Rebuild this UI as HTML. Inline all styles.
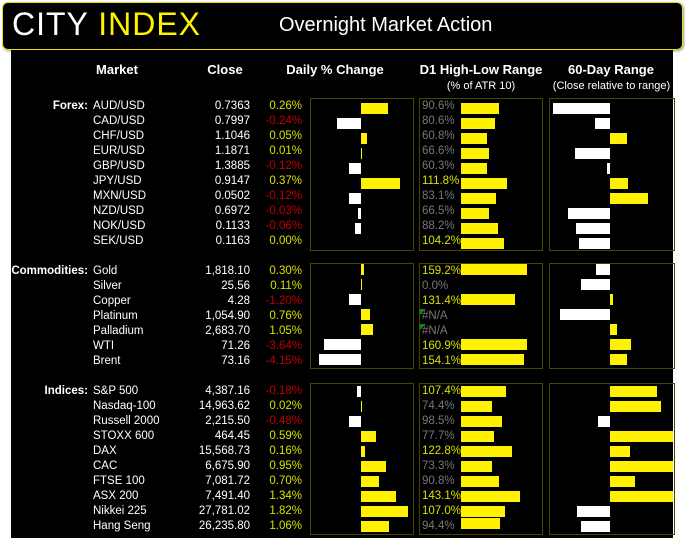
<!DOCTYPE html>
<html><head><meta charset="utf-8"><style>
*{margin:0;padding:0}
body{width:693px;height:538px;background:#fff;position:relative;overflow:hidden;font-family:"Liberation Sans",sans-serif}
.a{position:absolute}
#hdr{left:2px;top:2px;width:679px;height:46px;background:#000;border:1px solid #e8e000;border-radius:6px;box-shadow:1px 1px 2px #999}
#body{left:11px;top:50px;width:662px;height:488px;background:#000}
.t{position:absolute;height:16px;line-height:16px;font-size:11.5px;color:#fff;white-space:nowrap}
.r{text-align:right}
.n{left:93px}.lb{right:605px;font-weight:bold}.c{right:443px}.p{right:391px}
.g{color:#d8e000}.m{color:#c00000}
.box{position:absolute;border:1px solid #4a4500}
.y{position:absolute;background:#fff200;height:11px}
.w{position:absolute;background:#fff;height:11px}
.d{position:absolute;height:16px;line-height:16px;font-size:11.5px;left:422px;color:#777}
.d.h{color:#d8e000}
.hd{position:absolute;color:#fff;font-weight:bold;font-size:13px;text-align:center;white-space:nowrap}
</style></head><body>
<div id="hdr" class="a"></div>
<div class="a" style="left:12px;top:4px;font-size:32px;line-height:40px;color:#fff;letter-spacing:1px">CITY <span style="color:#fff200">INDEX</span></div>
<div class="a" style="left:279px;top:12px;font-size:20px;line-height:26px;color:#fff">Overnight Market Action</div>
<div id="body" class="a"></div>

<div class="hd" style="left:77px;width:80px;top:62px">Market</div>
<div class="hd" style="left:195px;width:60px;top:62px">Close</div>
<div class="hd" style="left:270px;width:130px;top:62px">Daily % Change</div>
<div class="hd" style="left:411px;width:140px;top:62px">D1 High-Low Range</div>
<div class="a" style="left:411px;width:140px;top:80px;text-align:center;color:#fff;font-size:11px">(% of ATR 10)</div>
<div class="hd" style="left:546px;width:130px;top:62px">60-Day Range</div>
<div class="a" style="left:544px;width:135px;top:80px;text-align:center;color:#fff;font-size:11px;white-space:nowrap">(Close relative to range)</div>

<div class="box" style="left:310px;top:98px;width:102px;height:151px"></div>
<div class="box" style="left:419px;top:98px;width:122px;height:151px"></div>
<div class="box" style="left:549px;top:98px;width:124px;height:151px"></div>
<div class="box" style="left:310px;top:263px;width:102px;height:104px"></div>
<div class="box" style="left:419px;top:263px;width:122px;height:104px"></div>
<div class="box" style="left:549px;top:263px;width:124px;height:104px"></div>
<div class="box" style="left:310px;top:383px;width:102px;height:150px"></div>
<div class="box" style="left:419px;top:383px;width:122px;height:150px"></div>
<div class="box" style="left:549px;top:383px;width:124px;height:150px"></div>

<!-- Forex -->
<div class="t r lb" style="top:98px">Forex:</div>
<div class="t n" style="top:98px">AUD/USD</div><div class="t r c" style="top:98px">0.7363</div><div class="t r p g" style="top:98px">0.26%</div>
<div class="t n" style="top:113px">CAD/USD</div><div class="t r c" style="top:113px">0.7997</div><div class="t r p m" style="top:113px">-0.24%</div>
<div class="t n" style="top:128px">CHF/USD</div><div class="t r c" style="top:128px">1.1046</div><div class="t r p g" style="top:128px">0.05%</div>
<div class="t n" style="top:143px">EUR/USD</div><div class="t r c" style="top:143px">1.1871</div><div class="t r p g" style="top:143px">0.01%</div>
<div class="t n" style="top:158px">GBP/USD</div><div class="t r c" style="top:158px">1.3885</div><div class="t r p m" style="top:158px">-0.12%</div>
<div class="t n" style="top:173px">JPY/USD</div><div class="t r c" style="top:173px">0.9147</div><div class="t r p g" style="top:173px">0.37%</div>
<div class="t n" style="top:188px">MXN/USD</div><div class="t r c" style="top:188px">0.0502</div><div class="t r p m" style="top:188px">-0.12%</div>
<div class="t n" style="top:203px">NZD/USD</div><div class="t r c" style="top:203px">0.6972</div><div class="t r p m" style="top:203px">-0.03%</div>
<div class="t n" style="top:218px">NOK/USD</div><div class="t r c" style="top:218px">0.1133</div><div class="t r p m" style="top:218px">-0.06%</div>
<div class="t n" style="top:233px">SEK/USD</div><div class="t r c" style="top:233px">0.1163</div><div class="t r p g" style="top:233px">0.00%</div>

<div class="y" style="left:361px;width:27px;top:103px"></div>
<div class="w" style="left:337px;width:24px;top:118px"></div>
<div class="y" style="left:361px;width:6px;top:133px"></div>
<div class="y" style="left:361px;width:1px;top:148px"></div>
<div class="w" style="left:349px;width:12px;top:163px"></div>
<div class="y" style="left:361px;width:39px;top:178px"></div>
<div class="w" style="left:349px;width:12px;top:193px"></div>
<div class="w" style="left:358px;width:3px;top:208px"></div>
<div class="w" style="left:355px;width:6px;top:223px"></div>

<div class="d" style="top:98px">90.6%</div><div class="y" style="left:461px;width:38px;top:103px"></div>
<div class="d" style="top:113px">80.6%</div><div class="y" style="left:461px;width:34px;top:118px"></div>
<div class="d" style="top:128px">60.8%</div><div class="y" style="left:461px;width:26px;top:133px"></div>
<div class="d" style="top:143px">66.6%</div><div class="y" style="left:461px;width:28px;top:148px"></div>
<div class="d" style="top:158px">60.3%</div><div class="y" style="left:461px;width:26px;top:163px"></div>
<div class="d h" style="top:173px">111.8%</div><div class="y" style="left:461px;width:46px;top:178px"></div>
<div class="d" style="top:188px">83.1%</div><div class="y" style="left:461px;width:35px;top:193px"></div>
<div class="d" style="top:203px">66.5%</div><div class="y" style="left:461px;width:28px;top:208px"></div>
<div class="d" style="top:218px">88.2%</div><div class="y" style="left:461px;width:37px;top:223px"></div>
<div class="d h" style="top:233px">104.2%</div><div class="y" style="left:461px;width:43px;top:238px"></div>

<div class="w" style="left:553px;width:57px;top:103px"></div>
<div class="w" style="left:595px;width:15px;top:118px"></div>
<div class="y" style="left:610px;width:17px;top:133px"></div>
<div class="w" style="left:575px;width:35px;top:148px"></div>
<div class="w" style="left:607px;width:3px;top:163px"></div>
<div class="y" style="left:610px;width:18px;top:178px"></div>
<div class="y" style="left:610px;width:38px;top:193px"></div>
<div class="w" style="left:568px;width:42px;top:208px"></div>
<div class="w" style="left:576px;width:34px;top:223px"></div>
<div class="w" style="left:579px;width:31px;top:238px"></div>

<!-- Commodities -->
<div class="t r lb" style="top:263px">Commodities:</div>
<div class="t n" style="top:263px">Gold</div><div class="t r c" style="top:263px">1,818.10</div><div class="t r p g" style="top:263px">0.30%</div>
<div class="t n" style="top:278px">Silver</div><div class="t r c" style="top:278px">25.56</div><div class="t r p g" style="top:278px">0.11%</div>
<div class="t n" style="top:293px">Copper</div><div class="t r c" style="top:293px">4.28</div><div class="t r p m" style="top:293px">-1.20%</div>
<div class="t n" style="top:308px">Platinum</div><div class="t r c" style="top:308px">1,054.90</div><div class="t r p g" style="top:308px">0.76%</div>
<div class="t n" style="top:323px">Palladium</div><div class="t r c" style="top:323px">2,683.70</div><div class="t r p g" style="top:323px">1.05%</div>
<div class="t n" style="top:338px">WTI</div><div class="t r c" style="top:338px">71.26</div><div class="t r p m" style="top:338px">-3.64%</div>
<div class="t n" style="top:353px">Brent</div><div class="t r c" style="top:353px">73.16</div><div class="t r p m" style="top:353px">-4.15%</div>

<div class="y" style="left:361px;width:3px;top:264px"></div>
<div class="y" style="left:361px;width:1px;top:279px"></div>
<div class="w" style="left:349px;width:12px;top:294px"></div>
<div class="y" style="left:361px;width:9px;top:309px"></div>
<div class="y" style="left:361px;width:12px;top:324px"></div>
<div class="w" style="left:324px;width:37px;top:339px"></div>
<div class="w" style="left:319px;width:42px;top:354px"></div>

<div class="d h" style="top:263px">159.2%</div><div class="y" style="left:461px;width:66px;top:264px"></div>
<div class="d" style="top:278px">0.0%</div>
<div class="d h" style="top:293px">131.4%</div><div class="y" style="left:461px;width:54px;top:294px"></div>
<div class="d" style="top:308px">#N/A</div>
<div class="a" style="left:420px;top:309px;width:0;height:0;border-top:6px solid #0a8a0a;border-right:6px solid transparent"></div>
<div class="d" style="top:323px">#N/A</div>
<div class="a" style="left:420px;top:324px;width:0;height:0;border-top:6px solid #0a8a0a;border-right:6px solid transparent"></div>
<div class="d h" style="top:338px">160.9%</div><div class="y" style="left:461px;width:66px;top:339px"></div>
<div class="d h" style="top:353px">154.1%</div><div class="y" style="left:461px;width:63px;top:354px"></div>

<div class="w" style="left:596px;width:14px;top:264px"></div>
<div class="w" style="left:581px;width:29px;top:279px"></div>
<div class="y" style="left:610px;width:3px;top:294px"></div>
<div class="w" style="left:560px;width:50px;top:309px"></div>
<div class="y" style="left:610px;width:7px;top:324px"></div>
<div class="y" style="left:610px;width:21px;top:339px"></div>
<div class="y" style="left:610px;width:17px;top:354px"></div>

<!-- Indices -->
<div class="t r lb" style="top:383px">Indices:</div>
<div class="t n" style="top:383px">S&amp;P 500</div><div class="t r c" style="top:383px">4,387.16</div><div class="t r p m" style="top:383px">-0.18%</div>
<div class="t n" style="top:398px">Nasdaq-100</div><div class="t r c" style="top:398px">14,963.62</div><div class="t r p g" style="top:398px">0.02%</div>
<div class="t n" style="top:413px">Russell 2000</div><div class="t r c" style="top:413px">2,215.50</div><div class="t r p m" style="top:413px">-0.48%</div>
<div class="t n" style="top:428px">STOXX 600</div><div class="t r c" style="top:428px">464.45</div><div class="t r p g" style="top:428px">0.59%</div>
<div class="t n" style="top:443px">DAX</div><div class="t r c" style="top:443px">15,568.73</div><div class="t r p g" style="top:443px">0.16%</div>
<div class="t n" style="top:458px">CAC</div><div class="t r c" style="top:458px">6,675.90</div><div class="t r p g" style="top:458px">0.95%</div>
<div class="t n" style="top:473px">FTSE 100</div><div class="t r c" style="top:473px">7,081.72</div><div class="t r p g" style="top:473px">0.70%</div>
<div class="t n" style="top:488px">ASX 200</div><div class="t r c" style="top:488px">7,491.40</div><div class="t r p g" style="top:488px">1.34%</div>
<div class="t n" style="top:503px">Nikkei 225</div><div class="t r c" style="top:503px">27,781.02</div><div class="t r p g" style="top:503px">1.82%</div>
<div class="t n" style="top:518px">Hang Seng</div><div class="t r c" style="top:518px">26,235.80</div><div class="t r p g" style="top:518px">1.06%</div>

<div class="w" style="left:357px;width:4px;top:386px"></div>
<div class="y" style="left:361px;width:1px;top:401px"></div>
<div class="w" style="left:349px;width:12px;top:416px"></div>
<div class="y" style="left:361px;width:15px;top:431px"></div>
<div class="y" style="left:361px;width:4px;top:446px"></div>
<div class="y" style="left:361px;width:25px;top:461px"></div>
<div class="y" style="left:361px;width:18px;top:476px"></div>
<div class="y" style="left:361px;width:35px;top:491px"></div>
<div class="y" style="left:361px;width:47px;top:506px"></div>
<div class="y" style="left:361px;width:28px;top:521px"></div>

<div class="d h" style="top:383px">107.4%</div><div class="y" style="left:461px;width:45px;top:386px"></div>
<div class="d" style="top:398px">74.4%</div><div class="y" style="left:461px;width:31px;top:401px"></div>
<div class="d" style="top:413px">98.5%</div><div class="y" style="left:461px;width:41px;top:416px"></div>
<div class="d" style="top:428px">77.7%</div><div class="y" style="left:461px;width:33px;top:431px"></div>
<div class="d h" style="top:443px">122.8%</div><div class="y" style="left:461px;width:51px;top:446px"></div>
<div class="d" style="top:458px">73.3%</div><div class="y" style="left:461px;width:31px;top:461px"></div>
<div class="d" style="top:473px">90.8%</div><div class="y" style="left:461px;width:38px;top:476px"></div>
<div class="d h" style="top:488px">143.1%</div><div class="y" style="left:461px;width:59px;top:491px"></div>
<div class="d h" style="top:503px">107.0%</div><div class="y" style="left:461px;width:44px;top:506px"></div>
<div class="d" style="top:518px">94.4%</div><div class="y" style="left:461px;width:39px;top:518px"></div>

<div class="y" style="left:610px;width:47px;top:386px"></div>
<div class="y" style="left:610px;width:51px;top:401px"></div>
<div class="w" style="left:598px;width:12px;top:416px"></div>
<div class="y" style="left:610px;width:63px;top:431px"></div>
<div class="y" style="left:610px;width:20px;top:446px"></div>
<div class="y" style="left:610px;width:63px;top:461px"></div>
<div class="y" style="left:610px;width:25px;top:476px"></div>
<div class="y" style="left:610px;width:63px;top:491px"></div>
<div class="w" style="left:577px;width:33px;top:506px"></div>
<div class="w" style="left:581px;width:29px;top:521px"></div>
</body></html>
